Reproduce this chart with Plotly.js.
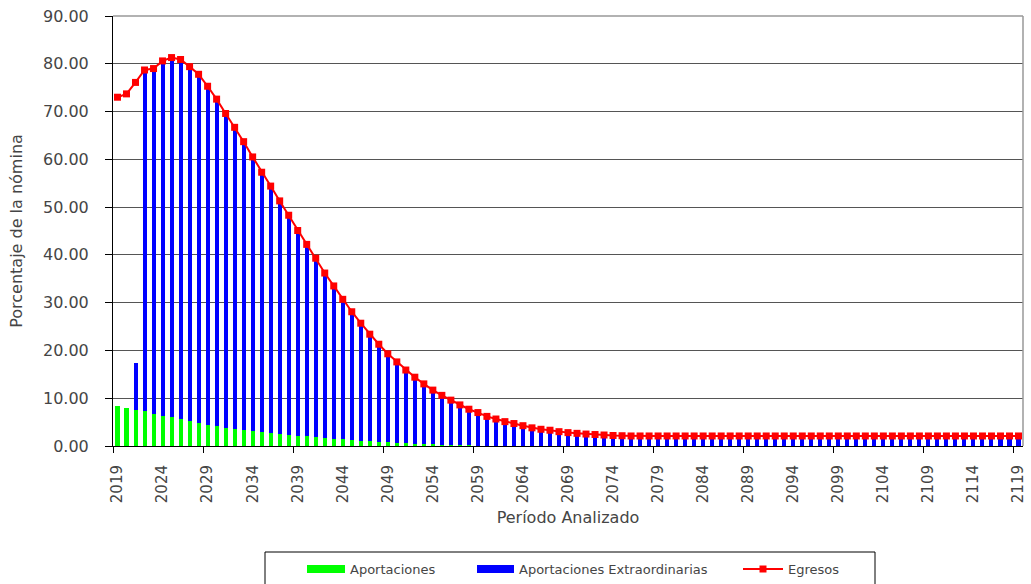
<!DOCTYPE html>
<html>
<head>
<meta charset="utf-8">
<script src="https://cdn.plot.ly/plotly-3.0.1.min.js"></script>
<style>
html,body{margin:0;padding:0;background:#fff;}
#chart{width:1031px;height:584px;}
</style>
</head>
<body>
<div id="chart"></div>
<script>
const years = [
  2019,2020,2021,2022,2023,2024,2025,2026,2027,2028,
  2029,2030,2031,2032,2033,2034,2035,2036,2037,2038,
  2039,2040,2041,2042,2043,2044,2045,2046,2047,2048,
  2049,2050,2051,2052,2053,2054,2055,2056,2057,2058,
  2059,2060,2061,2062,2063,2064,2065,2066,2067,2068,
  2069,2070,2071,2072,2073,2074,2075,2076,2077,2078,
  2079,2080,2081,2082,2083,2084,2085,2086,2087,2088,
  2089,2090,2091,2092,2093,2094,2095,2096,2097,2098,
  2099,2100,2101,2102,2103,2104,2105,2106,2107,2108,
  2109,2110,2111,2112,2113,2114,2115,2116,2117,2118,
  2119
];

const aportaciones = [
  8.4,8.0,7.5,7.3,6.8,6.35,6.0,5.6,5.2,4.8,
  4.5,4.2,3.8,3.6,3.35,3.1,2.85,2.65,2.5,2.3,
  2.1,2.0,1.8,1.7,1.5,1.4,1.2,1.1,1.0,0.9,
  0.8,0.7,0.6,0.5,0.45,0.4,0.3,0.25,0.2,0.15,
  0.1,0.08,0.06,0.05,0.04,0.03,0.02,0.01,0,0,
  0,0,0,0,0,0,0,0,0,0,
  0,0,0,0,0,0,0,0,0,0,
  0,0,0,0,0,0,0,0,0,0,
  0,0,0,0,0,0,0,0,0,0,
  0,0,0,0,0,0,0,0,0,0,
  0
];

const extraordinarias = [
  0,0,9.8,71.4,72.2,74.25,75.3,75.3,74.2,73.0,
  70.8,68.4,65.8,63.1,60.35,57.4,54.45,51.75,48.8,46.0,
  43.0,40.2,37.5,34.5,32.0,29.3,26.9,24.6,22.4,20.4,
  18.5,16.9,15.3,13.9,12.55,11.3,10.3,9.35,8.4,7.55,
  6.9,6.12,5.59,5.05,4.66,4.22,3.78,3.49,3.3,3.0,
  2.8,2.65,2.5,2.4,2.3,2.2,2.15,2.1,2.1,2.1,
  2.1,2.1,2.1,2.1,2.1,2.1,2.1,2.1,2.1,2.1,
  2.1,2.1,2.1,2.1,2.1,2.1,2.1,2.1,2.1,2.1,
  2.1,2.1,2.1,2.1,2.1,2.1,2.1,2.1,2.1,2.1,
  2.1,2.1,2.1,2.1,2.1,2.1,2.1,2.1,2.1,2.1,
  2.1
];

const egresos = [
  73.0,73.7,76.1,78.7,79.0,80.6,81.3,80.9,79.4,77.8,
  75.3,72.6,69.6,66.7,63.7,60.5,57.3,54.4,51.3,48.3,
  45.1,42.2,39.3,36.2,33.5,30.7,28.1,25.7,23.4,21.3,
  19.3,17.6,15.9,14.4,13.0,11.7,10.6,9.6,8.6,7.7,
  7.0,6.2,5.65,5.1,4.7,4.25,3.8,3.5,3.3,3.0,
  2.8,2.65,2.5,2.4,2.3,2.2,2.15,2.1,2.1,2.1,
  2.1,2.1,2.1,2.1,2.1,2.1,2.1,2.1,2.1,2.1,
  2.1,2.1,2.1,2.1,2.1,2.1,2.1,2.1,2.1,2.1,
  2.1,2.1,2.1,2.1,2.1,2.1,2.1,2.1,2.1,2.1,
  2.1,2.1,2.1,2.1,2.1,2.1,2.1,2.1,2.1,2.1,
  2.1
];

const seriesNames = ['Aportaciones', 'Aportaciones Extraordinarias', 'Egresos'];
const yTickVals = [0,10,20,30,40,50,60,70,80,90];
const xTickVals = years.filter((y, i) => i % 5 === 0);

const FONT = 'DejaVu Sans, Verdana, sans-serif';
const TXT = '#454545';

// plot area in pixels
const L = 113, R = 1023, T = 16, B = 446;
const px = x => (x - L) / (R - L);
const py = y => (B - y) / (B - T);

const traces = [
  {type:'bar', x:years, y:aportaciones, name:seriesNames[0],
   marker:{color:'#00ff00', line:{width:0}}, width:0.45, showlegend:false},
  {type:'bar', x:years, y:extraordinarias, name:seriesNames[1],
   marker:{color:'#0000ff', line:{width:0}}, width:0.45, showlegend:false},
  {type:'scatter', mode:'lines+markers', x:years, y:egresos, name:seriesNames[2],
   line:{color:'#ff0000', width:2}, marker:{symbol:'square', size:7, color:'#ff0000'},
   showlegend:false}
];

const shapes = [
  // legend box
  {type:'rect', xref:'paper', yref:'paper', x0:px(265), x1:px(875), y0:py(600), y1:py(552),
   line:{color:'#000', width:1}, fillcolor:'rgba(0,0,0,0)', layer:'above'},
  {type:'rect', xref:'paper', yref:'paper', x0:px(307), x1:px(345), y0:py(573), y1:py(565),
   line:{width:0}, fillcolor:'#00ff00'},
  {type:'rect', xref:'paper', yref:'paper', x0:px(477), x1:px(514), y0:py(573), y1:py(565),
   line:{width:0}, fillcolor:'#0000ff'},
  {type:'line', xref:'paper', yref:'paper', x0:px(743), x1:px(783), y0:py(569), y1:py(569),
   line:{color:'#ff0000', width:2}},
  {type:'rect', xref:'paper', yref:'paper', x0:px(759.5), x1:px(766.5), y0:py(572.5), y1:py(565.5),
   line:{width:0}, fillcolor:'#ff0000'},
  // right and top frame
  {type:'line', xref:'paper', yref:'paper', x0:1, x1:1, y0:0, y1:1, line:{color:'#999', width:1.5}},
  {type:'line', xref:'paper', yref:'paper', x0:0, x1:1, y0:1, y1:1, line:{color:'#999', width:1.5}}
];

const legendText = (txt, x) => ({
  xref:'paper', yref:'paper', x:px(x), y:py(569), xanchor:'left', yanchor:'middle',
  text:txt, showarrow:false, font:{family:FONT, size:13, color:TXT}
});

const annotations = [
  legendText(seriesNames[0], 348),
  legendText(seriesNames[1], 517),
  legendText(seriesNames[2], 786)
];

const layout = {
  width:1031, height:584,
  margin:{l:L, r:1031 - R, t:T, b:584 - B, pad:0},
  paper_bgcolor:'#fff', plot_bgcolor:'#fff',
  barmode:'stack', bargap:0,
  showlegend:false,
  font:{family:FONT, color:TXT, size:16},
  xaxis:{
    type:'linear', range:[2018.5, 2119.5],
    tickmode:'array', tickvals:xTickVals, ticktext:xTickVals.map(String),
    tickangle:-90, ticks:'', showgrid:false, zeroline:false,
    showline:true, linecolor:'#000', linewidth:1, mirror:false,
    tickfont:{family:FONT, size:15, color:TXT},
    ticklabelstandoff:12,
    minor:{tickmode:'linear', tick0:2018.5, dtick:10, ticks:'outside', ticklen:6, tickcolor:'#000', showgrid:false},
    title:{text:'Período Analizado', font:{family:FONT, size:16, color:TXT}, standoff:9}
  },
  yaxis:{
    range:[0, 90], tickmode:'array', tickvals:yTickVals,
    ticktext:yTickVals.map(v => v.toFixed(2)),
    ticks:'outside', ticklen:7, tickcolor:'#000',
    ticklabelstandoff:13,
    showgrid:true, gridcolor:'#555', gridwidth:1, zeroline:false,
    showline:true, linecolor:'#000', linewidth:1,
    tickfont:{family:FONT, size:16, color:TXT},
    title:{text:'Porcentaje de la nómina', font:{family:FONT, size:16, color:TXT}, standoff:16}
  },
  shapes:shapes,
  annotations:annotations
};

Plotly.newPlot('chart', traces, layout, {displayModeBar:false, staticPlot:true});
</script>
</body>
</html>
